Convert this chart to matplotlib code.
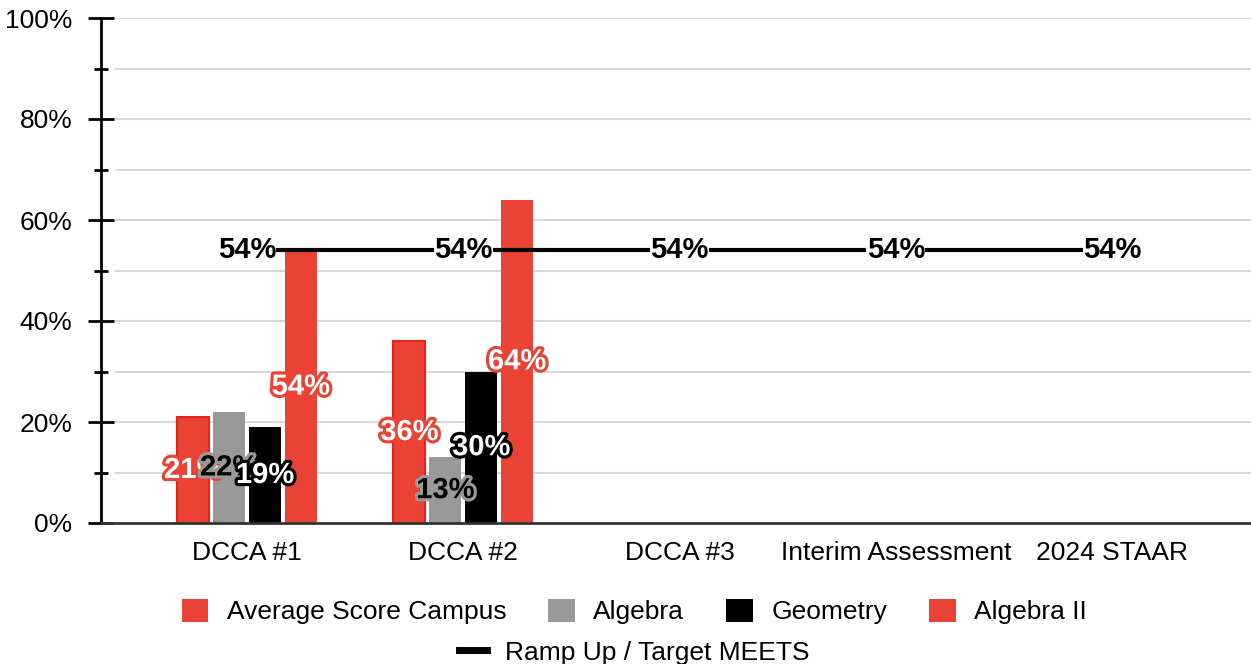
import numpy as np
import matplotlib.pyplot as plt
import matplotlib.patheffects as pe
from matplotlib.patches import Patch
from matplotlib.lines import Line2D

plt.rcParams['font.family'] = ['Liberation Sans', 'DejaVu Sans']

categories = ['DCCA #1', 'DCCA #2', 'DCCA #3', 'Interim Assessment', '2024 STAAR']
avg_campus = [21, 36]
algebra = [22, 13]
geometry = [19, 30]
algebra_2 = [54, 64]
target = [54, 54, 54, 54, 54]
yticks = [0, 20, 40, 60, 80, 100]
yminor = [10, 30, 50, 70, 90]

RED = '#EA4335'
GRAY = '#999999'
BLACK = '#000000'

# name, values, bar colour, label fill, label outline
series = [
    ('Average Score Campus', avg_campus, RED, 'white', RED),
    ('Algebra', algebra, GRAY, 'black', GRAY),
    ('Geometry', geometry, BLACK, 'white', BLACK),
    ('Algebra II', algebra_2, RED, 'white', RED),
]

fig = plt.figure(figsize=(12.51, 6.64), dpi=100)
ax = fig.add_axes([101 / 1251, 141 / 664, 1150 / 1251, 505 / 664])
ax.set_xlim(-0.675, 4.642)
ax.set_ylim(0, 100)

# light grid, starts a little right of the axis line
ax.hlines(yticks[1:] + yminor, -0.61, 4.642, color='#d9d9d9', lw=1.5, zorder=0)

width = 0.148
step = 0.166
for k, (name, vals, col, fc, oc) in enumerate(series):
    x = np.arange(len(vals)) + (k - 1.5) * step
    edge = '#E8221B' if k == 0 else col
    ax.bar(x, vals, width=width, color=col, edgecolor=edge,
           linewidth=1.5 if k == 0 else 0, zorder=2)
    for xi, v in zip(x, vals):
        ax.text(xi, v / 2, f'{v}%', ha='center', va='center', fontsize=21,
                fontweight='bold', color=fc, zorder=5,
                path_effects=[pe.Stroke(linewidth=4.5, foreground=oc), pe.Normal()])

xc = np.arange(len(categories))
ax.plot(xc, target, color='black', lw=3, zorder=3)
for xi, v in zip(xc, target):
    ax.text(xi, v, f'{v}%', ha='center', va='center', fontsize=21,
            fontweight='bold', color='black', zorder=4,
            bbox=dict(facecolor='white', edgecolor='none', pad=0.3))

ax.set_xticks(xc)
ax.set_xticklabels(categories, fontsize=19)
ax.tick_params(axis='x', length=0, pad=13)

ax.set_yticks(yticks)
ax.set_yticklabels([f'{v}%' for v in yticks], fontsize=19)
ax.set_yticks(yminor, minor=True)
ax.tick_params(axis='y', which='major', direction='inout', length=19, width=2, pad=11)
ax.tick_params(axis='y', which='minor', direction='inout', length=10, width=2)

for s in ['top', 'right']:
    ax.spines[s].set_visible(False)
ax.spines['left'].set_linewidth(2)
ax.spines['bottom'].set_linewidth(2)
ax.spines['bottom'].set_color('#333333')

handles = [Patch(facecolor=c) for _, _, c, _, _ in series]
labels = [n for n, *_ in series]
fig.legend(handles, labels, loc='center', bbox_to_anchor=(0.507, 0.079), ncol=4,
           frameon=False, fontsize=19, handlelength=1, handleheight=1,
           handletextpad=0.7, columnspacing=1.6)
fig.legend([Line2D([0], [0], color='black', lw=5)], ['Ramp Up / Target MEETS'],
           loc='center', bbox_to_anchor=(0.507, 0.017), frameon=False, fontsize=19,
           handlelength=1.05, handletextpad=0.7)

fig.savefig('out.png', dpi=100)
